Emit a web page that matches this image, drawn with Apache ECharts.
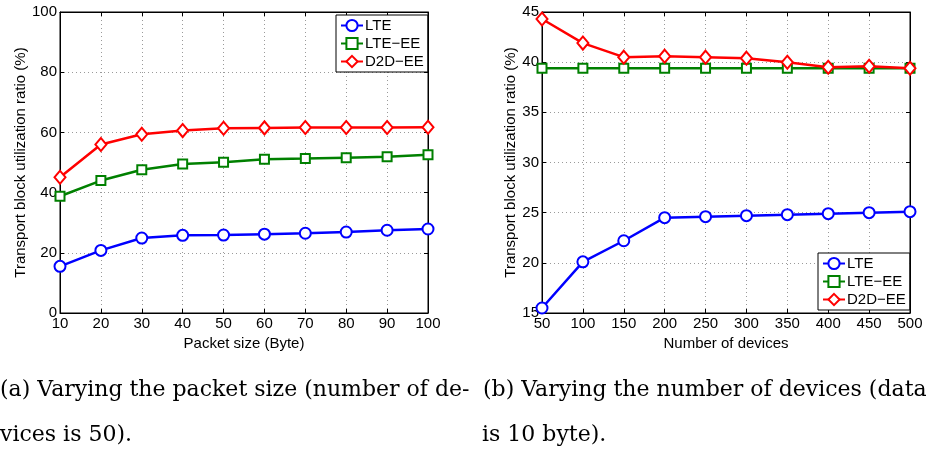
<!DOCTYPE html>
<html>
<head>
<meta charset="utf-8">
<script src="https://cdn.jsdelivr.net/npm/echarts@6/dist/echarts.min.js"></script>
<style>html,body{margin:0;padding:0;background:#fff;}#c{width:926px;height:450px;}</style>
</head>
<body>
<div id="c"></div>
<script>
// Left chart: packet size
const packetSizes = [10, 20, 30, 40, 50, 60, 70, 80, 90, 100];
const lteA   = [15.5, 20.8, 24.9, 25.8, 25.9, 26.2, 26.5, 26.9, 27.5, 27.9];
const lteEeA = [38.8, 44.0, 47.6, 49.5, 50.1, 51.1, 51.3, 51.6, 51.9, 52.6];
const d2dEeA = [45.1, 56.0, 59.4, 60.6, 61.4, 61.5, 61.6, 61.6, 61.6, 61.7];
// Right chart: number of devices
const deviceCounts = [50, 100, 150, 200, 250, 300, 350, 400, 450, 500];
const lteB   = [15.5, 20.1, 22.2, 24.5, 24.6, 24.7, 24.8, 24.9, 25.0, 25.1];
const lteEeB = [39.4, 39.4, 39.4, 39.4, 39.4, 39.4, 39.4, 39.4, 39.4, 39.4];
const d2dEeB = [44.3, 41.9, 40.5, 40.6, 40.5, 40.4, 40.0, 39.5, 39.6, 39.4];
const seriesNames = ['LTE', 'LTE\u2212EE', 'D2D\u2212EE'];
const yName = 'Transport block utilization ratio (%)';
const xNameA = 'Packet size (Byte)';
const xNameB = 'Number of devices';
const captionA1 = '(a) Varying the packet size (number of de-';
const captionA2 = 'vices is 50).';
const captionB1 = '(b) Varying the number of devices (data s';
const captionB2 = 'is 10 byte).';

const FONT = 'Liberation Sans, Arial, Helvetica, sans-serif';
const colors = ['#0000ff', '#008000', '#ff0000'];
const symbols = ['emptyCircle', 'emptyRect', 'emptyDiamond'];
const symbolSizes = [11, 9, [11, 13]];

function pairs(xs, ys) { return xs.map((x, i) => [x, ys[i]]); }

const grid = [
  {left: 60, top: 12, width: 368, height: 301, show: true, borderColor: '#000', borderWidth: 1, backgroundColor: 'transparent'},
  {left: 542, top: 12, width: 368, height: 301, show: true, borderColor: '#000', borderWidth: 1, backgroundColor: 'transparent'}
];

function mainX(gi, min, max, interval, name) {
  return {
    type: 'value', gridIndex: gi, min: min, max: max, interval: interval, position: 'bottom',
    name: name, nameLocation: 'middle', nameGap: 15,
    nameTextStyle: {fontFamily: FONT, fontSize: 15, color: '#000'},
    axisLine: {show: true, onZero: false, lineStyle: {color: '#000', width: 1}},
    axisTick: {show: true, inside: true, length: 4, lineStyle: {color: '#000'}},
    axisLabel: {fontFamily: FONT, fontSize: 15, color: '#000', margin: 3},
    splitLine: {show: true, lineStyle: {type: [1, 3], color: '#9a9a9a', width: 1}}
  };
}
function topX(gi, min, max, interval) {
  return {
    type: 'value', gridIndex: gi, min: min, max: max, interval: interval, position: 'top',
    axisLine: {show: true, onZero: false, lineStyle: {color: '#000', width: 1}},
    axisTick: {show: true, inside: true, length: 4, lineStyle: {color: '#000'}},
    axisLabel: {show: false}, splitLine: {show: false}
  };
}
function mainY(gi, min, max, interval, gap) {
  return {
    type: 'value', gridIndex: gi, min: min, max: max, interval: interval, position: 'left',
    name: yName, nameLocation: 'middle', nameGap: gap,
    nameTextStyle: {fontFamily: FONT, fontSize: 15, color: '#000'},
    axisLine: {show: true, onZero: false, lineStyle: {color: '#000', width: 1}},
    axisTick: {show: true, inside: true, length: 4, lineStyle: {color: '#000'}},
    axisLabel: {fontFamily: FONT, fontSize: 15, color: '#000', margin: 3},
    splitLine: {show: true, lineStyle: {type: [1, 3], color: '#9a9a9a', width: 1}}
  };
}
function rightY(gi, min, max, interval) {
  return {
    type: 'value', gridIndex: gi, min: min, max: max, interval: interval, position: 'right',
    axisLine: {show: true, onZero: false, lineStyle: {color: '#000', width: 1}},
    axisTick: {show: true, inside: true, length: 4, lineStyle: {color: '#000'}},
    axisLabel: {show: false}, splitLine: {show: false}
  };
}

function mkSeries(name, idx, xi, yi, data) {
  return {
    type: 'line', name: name, xAxisIndex: xi, yAxisIndex: yi, data: data,
    symbol: symbols[idx], symbolSize: symbolSizes[idx], showAllSymbol: true,
    color: colors[idx],
    lineStyle: {color: colors[idx], width: 2.5},
    itemStyle: {color: colors[idx], borderColor: colors[idx], borderWidth: 2.5},
    animation: false, z: 3 + idx
  };
}

const legendBase = {
  orient: 'vertical', backgroundColor: '#fff', borderColor: '#000', borderWidth: 1,
  padding: [3, 4, 3, 4], itemGap: 3, itemWidth: 22, itemHeight: 14,
  textStyle: {fontFamily: FONT, fontSize: 15, color: '#000', padding: [0, 0, 0, -3]},
  data: seriesNames
};

const series = [
  mkSeries(seriesNames[0], 0, 0, 0, pairs(packetSizes, lteA)),
  mkSeries(seriesNames[1], 1, 0, 0, pairs(packetSizes, lteEeA)),
  mkSeries(seriesNames[2], 2, 0, 0, pairs(packetSizes, d2dEeA)),
  mkSeries(seriesNames[0], 0, 2, 2, pairs(deviceCounts, lteB)),
  mkSeries(seriesNames[1], 1, 2, 2, pairs(deviceCounts, lteEeB)),
  mkSeries(seriesNames[2], 2, 2, 2, pairs(deviceCounts, d2dEeB))
];

const SERIF = 'DejaVu Serif, Liberation Serif, serif';
const capStyle = {fontFamily: SERIF, fontSize: 22, fill: '#000'};

const option = {
  backgroundColor: '#fff',
  animation: false,
  grid: grid,
  xAxis: [mainX(0, 10, 100, 10, xNameA), topX(0, 10, 100, 10), mainX(1, 50, 500, 50, xNameB), topX(1, 50, 500, 50)],
  yAxis: [mainY(0, 0, 100, 20, 32), rightY(0, 0, 100, 20), mainY(1, 15, 45, 5, 23), rightY(1, 15, 45, 5)],
  legend: [
    Object.assign({}, legendBase, {left: 336, top: 15}),
    Object.assign({}, legendBase, {left: 818, top: 253})
  ],
  series: series,
  graphic: [
    {type: 'text', left: 0, top: 379, style: Object.assign({text: captionA1}, capStyle)},
    {type: 'text', left: 0, top: 424, style: Object.assign({text: captionA2}, capStyle)},
    {type: 'text', left: 483, top: 379, style: Object.assign({text: captionB1}, capStyle)},
    {type: 'text', left: 482, top: 424, style: Object.assign({text: captionB2}, capStyle)}
  ]
};

const chart = echarts.init(document.getElementById('c'), null, {renderer: 'canvas'});
chart.setOption(option);
</script>
</body>
</html>
